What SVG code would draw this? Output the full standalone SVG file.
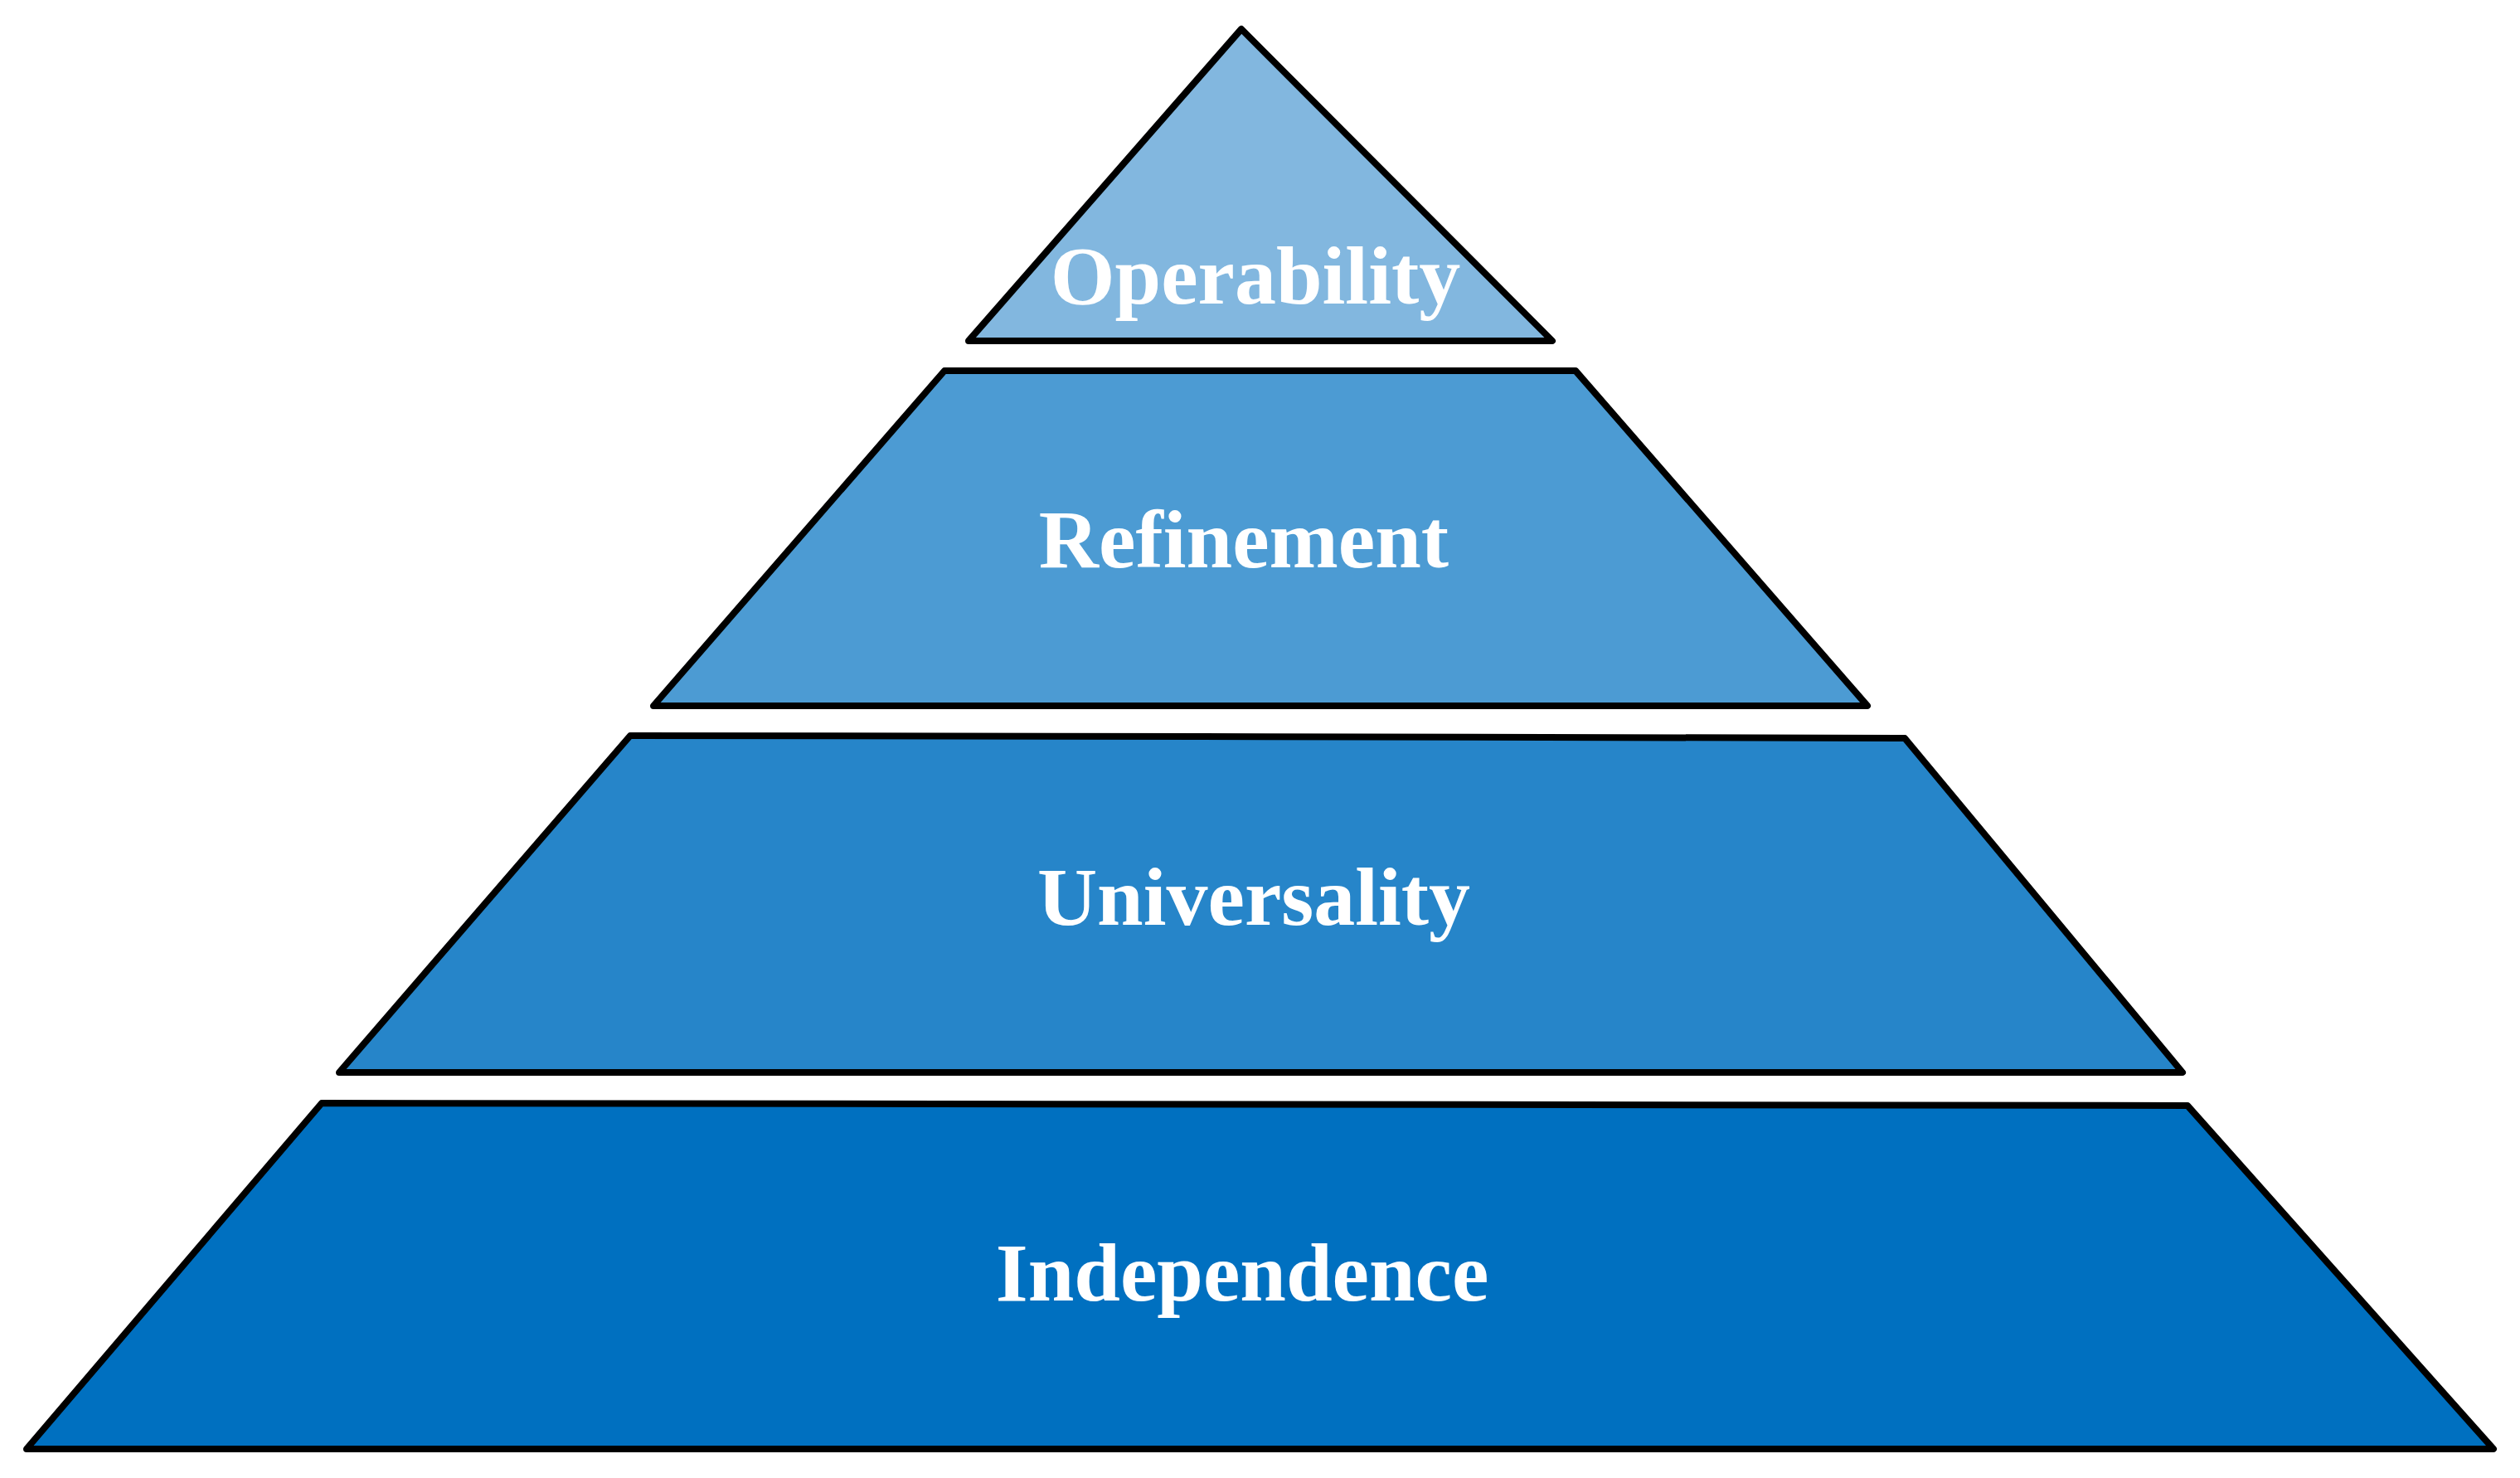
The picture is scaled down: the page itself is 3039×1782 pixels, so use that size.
<svg xmlns="http://www.w3.org/2000/svg" width="3039" height="1782" viewBox="0 0 3039 1782">
<style>
.tier{stroke:#000;stroke-width:8;stroke-linejoin:round}
.lbl{font-family:"Liberation Serif","Times New Roman",serif;font-weight:bold;font-size:100px;fill:#fff;text-anchor:middle}
</style>
<rect width="3039" height="1782" fill="#fff"/>
<g id="operability">
<polygon class="tier" fill="#82B7DF" points="1497,35 1872,411 1168,411"/>
<text class="lbl" x="1514" y="366">Operability</text>
</g>
<g id="refinement">
<polygon class="tier" fill="#4C9BD3" points="1139,447 1900,447 2252,851 788,851"/>
<text class="lbl" x="1500" y="684">Refinement</text>
</g>
<g id="universality">
<polygon class="tier" fill="#2685C9" points="760,887 1450,888 2297,890 2632,1293 409,1293"/>
<text class="lbl" x="1512" y="1115">Universality</text>
</g>
<g id="independence">
<polygon class="tier" fill="#0070C0" points="388,1330 1130,1331 2638,1333 3007,1747 32,1747"/>
<text class="lbl" x="1498" y="1568">Independence</text>
</g>
<g id="connectors"/>
</svg>
